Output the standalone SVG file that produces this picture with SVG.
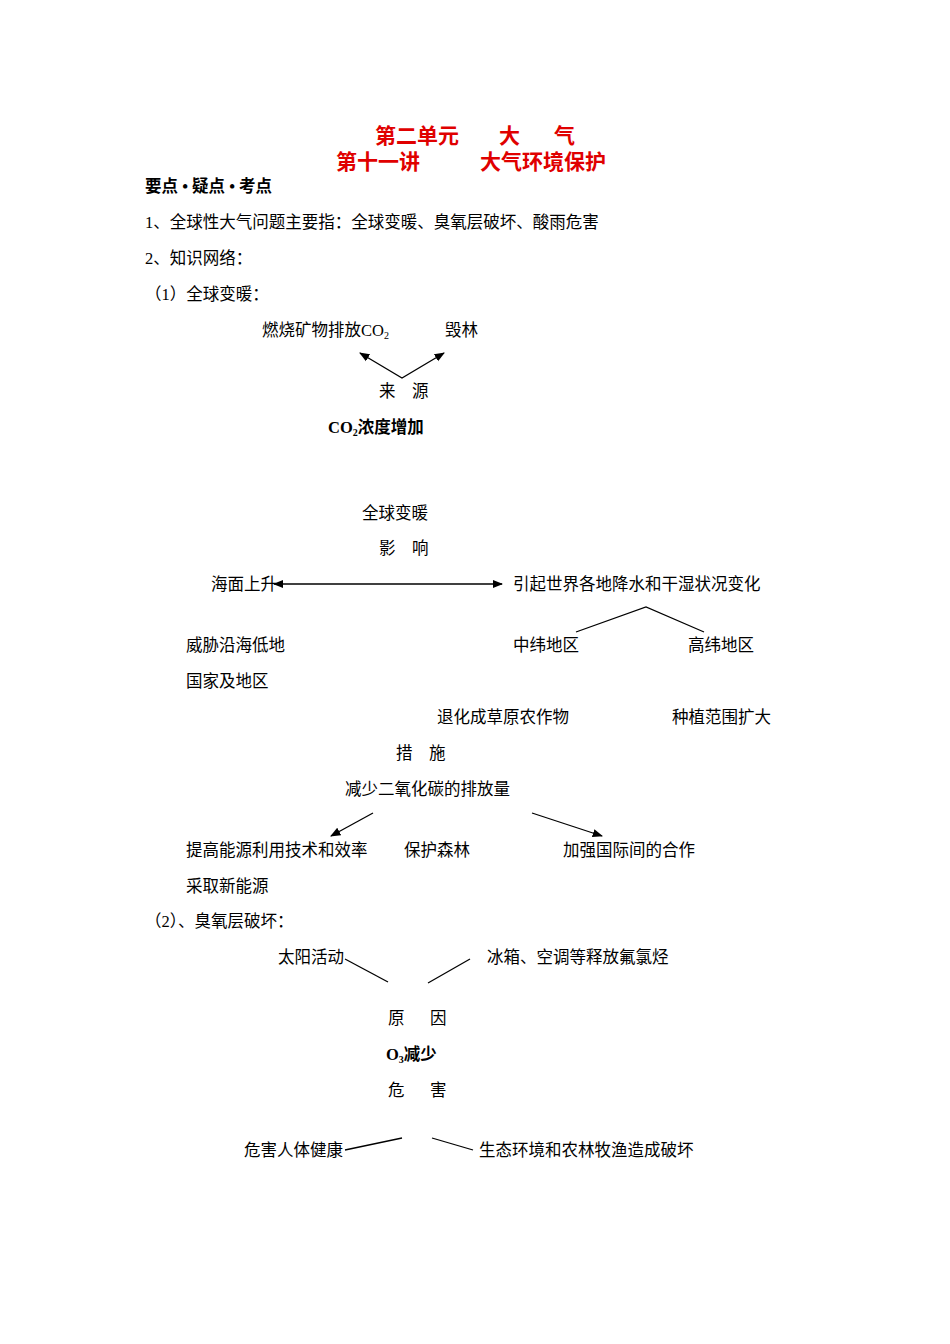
<svg xmlns="http://www.w3.org/2000/svg" width="950" height="1344" viewBox="0 0 950 1344">
<style>
text{font-family:"Liberation Serif","Noto Sans CJK SC",serif;font-size:16.5px;fill:#000}
.t{font-size:21px;font-weight:bold;fill:#e00000}
.b{font-weight:bold}
.l{stroke:#000;stroke-width:1.3;fill:none}
</style>
<defs><marker id="a" viewBox="0 0 10 10" refX="9" refY="5" markerWidth="8" markerHeight="8" orient="auto-start-reverse"><path d="M0,1L10,5L0,9z"/></marker></defs>
<rect width="950" height="1344" fill="#fff"/>
<g id="title"><text class="t" x="375" y="143">第二单元<tspan x="499">大</tspan><tspan x="554">气</tspan></text><text class="t" x="336" y="169">第十一讲<tspan x="480">大气环境保护</tspan></text></g>
<g id="intro">
<text class="b" x="145" y="192">要点 • 疑点 • 考点</text>
<text x="145" y="228">1、全球性大气问题主要指：全球变暖、臭氧层破坏、酸雨危害</text>
<text x="145" y="264">2、知识网络：</text>
<text x="145" y="300">（1）全球变暖：</text>
</g>
<g id="n1"><text x="262" y="336">燃烧矿物排放CO<tspan font-size="10" dy="3">2</tspan></text></g>
<g id="n2"><text x="445" y="336">毁林</text></g>
<g id="n3"><text x="379" y="397">来<tspan x="412">源</tspan></text></g>
<g id="n4"><text class="b" x="328" y="433">CO<tspan font-size="10" dy="3">2</tspan><tspan dy="-3">浓度增加</tspan></text></g>
<g id="n5"><text x="362" y="519">全球变暖</text></g>
<g id="n6"><text x="379" y="554">影<tspan x="412">响</tspan></text></g>
<g id="n7"><text x="211" y="590">海面上升</text></g>
<g id="n8"><text x="513" y="590">引起世界各地降水和干湿状况变化</text></g>
<g id="n9"><text x="186" y="651">威胁沿海低地</text><text x="186" y="687">国家及地区</text></g>
<g id="n10"><text x="513" y="651">中纬地区</text></g>
<g id="n11"><text x="688" y="651">高纬地区</text></g>
<g id="n12"><text x="437" y="723">退化成草原农作物</text></g>
<g id="n13"><text x="672" y="723">种植范围扩大</text></g>
<g id="n14"><text x="396" y="759">措<tspan x="429">施</tspan></text></g>
<g id="n15"><text x="345" y="795">减少二氧化碳的排放量</text></g>
<g id="n16"><text x="186" y="856">提高能源利用技术和效率</text><text x="186" y="892">采取新能源</text></g>
<g id="n17"><text x="404" y="856">保护森林</text></g>
<g id="n18"><text x="563" y="856">加强国际间的合作</text></g>
<g id="s2"><text x="145" y="927">（2）、臭氧层破坏：</text></g>
<g id="n19"><text x="278" y="963">太阳活动</text></g>
<g id="n20"><text x="487" y="963">冰箱、空调等释放氟氯烃</text></g>
<g id="n21"><text x="388" y="1024">原<tspan x="430">因</tspan></text></g>
<g id="n22"><text class="b" x="386" y="1060">O<tspan font-size="10" dy="3">3</tspan><tspan dy="-3">减少</tspan></text></g>
<g id="n23"><text x="388" y="1096">危<tspan x="430">害</tspan></text></g>
<g id="n24"><text x="244" y="1156">危害人体健康</text></g>
<g id="n25"><text x="479" y="1156">生态环境和农林牧渔造成破坏</text></g>
<g id="connectors" class="l">
<polyline class="l" points="360,353 402,378 444,353" marker-start="url(#a)" marker-end="url(#a)"/>
<line class="l" x1="274" y1="584" x2="502" y2="584" marker-start="url(#a)" marker-end="url(#a)"/>
<polyline class="l" points="576,632 646,607 704,632"/>
<line class="l" x1="373" y1="813" x2="331" y2="836" marker-end="url(#a)"/>
<line class="l" x1="532" y1="813" x2="602" y2="836" marker-end="url(#a)"/>
<line class="l" x1="345" y1="959" x2="388" y2="982"/>
<line class="l" x1="428" y1="983" x2="470" y2="959"/>
<line class="l" x1="345" y1="1150" x2="402" y2="1138"/>
<line class="l" x1="432" y1="1138" x2="473" y2="1150"/>
</g>
</svg>
